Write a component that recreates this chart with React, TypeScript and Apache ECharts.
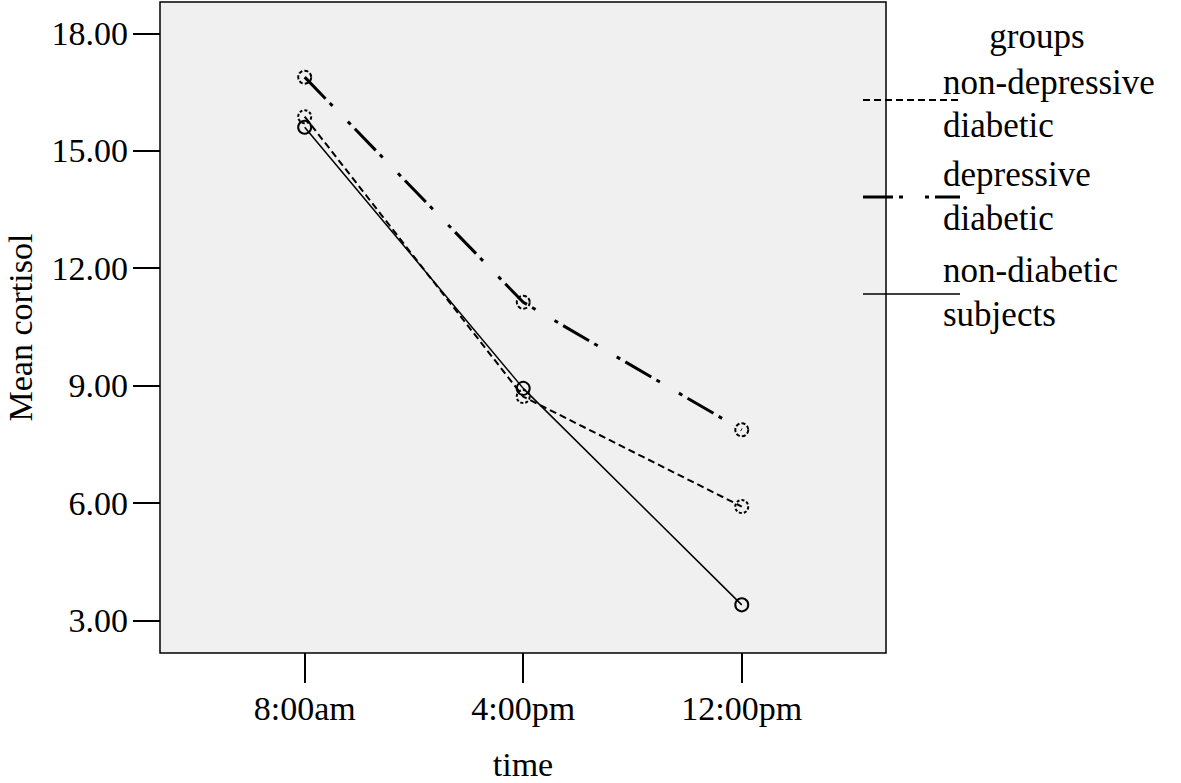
import React, { useEffect, useRef } from "react";
import * as echarts from "echarts";

const categories = ["8:00am", "4:00pm", "12:00pm"];
const yTicks = [3, 6, 9, 12, 15, 18];
const seriesNames = ["non-depressive diabetic", "depressive diabetic", "non-diabetic subjects"];
const nonDepressiveDiabetic = [15.87, 8.72, 5.91];
const depressiveDiabetic = [16.88, 11.13, 7.87];
const nonDiabeticSubjects = [15.6, 8.93, 3.4];

const FONT = "'Liberation Serif', 'Times New Roman', serif";

export default function App() {
  const ref = useRef<HTMLDivElement>(null);
  useEffect(() => {
    if (!ref.current) return;
    const chart = echarts.init(ref.current, null, { renderer: "svg" });
    const toData = (vals: number[]) => vals.map((v, i) => [i + 1, v]);
    const lineTypes: any[] = [[7, 4], [30, 6, 4, 22, 4, 6], "solid"];
    const lineWidths = [2, 3, 1.5];
    const borderTypes: any[] = [[3, 2], [4, 2], "solid"];
    const allData = [nonDepressiveDiabetic, depressiveDiabetic, nonDiabeticSubjects];
    const textStyle = { fontFamily: FONT, fontSize: 35, fill: "#000" };
    chart.setOption({
      animation: false,
      backgroundColor: "#fff",
      grid: {
        left: 160,
        top: 2,
        right: 295,
        bottom: 130,
        containLabel: false,
        outerBoundsMode: "none",
        show: true,
        backgroundColor: "#f0f0f0",
        borderColor: "#000",
        borderWidth: 1.5,
      },
      xAxis: {
        type: "value",
        min: 0.338,
        max: 3.66,
        name: "time",
        nameLocation: "middle",
        nameGap: 94,
        nameMoveOverlap: false,
        nameTextStyle: { fontFamily: FONT, fontSize: 34, color: "#000" },
        axisLine: { show: false },
        splitLine: { show: false },
        axisTick: { show: true, length: 30, customValues: [1, 2, 3], lineStyle: { color: "#000", width: 2 } },
        axisLabel: {
          customValues: [1, 2, 3],
          formatter: (v: number) => categories[Math.round(v) - 1] ?? "",
          fontFamily: FONT,
          fontSize: 34,
          color: "#000",
          margin: 38,
        },
      },
      yAxis: {
        type: "value",
        min: 2.17,
        max: 18.8,
        name: "Mean cortisol",
        nameLocation: "middle",
        nameGap: 123,
        nameMoveOverlap: false,
        nameRotate: 90,
        nameTextStyle: { fontFamily: FONT, fontSize: 34, color: "#000" },
        axisLine: { show: false },
        splitLine: { show: false },
        axisTick: { show: true, length: 27, customValues: yTicks, lineStyle: { color: "#000", width: 2 } },
        axisLabel: {
          customValues: yTicks,
          formatter: (v: number) => v.toFixed(2),
          fontFamily: FONT,
          fontSize: 34,
          color: "#000",
          margin: 32,
        },
      },
      series: seriesNames.map((name, i) => ({
        name,
        type: "line",
        data: toData(allData[i]),
        symbol: "circle",
        symbolSize: 13,
        itemStyle: { color: "transparent", borderColor: "#000", borderWidth: 2, borderType: borderTypes[i] },
        lineStyle: { color: "#000", width: lineWidths[i], type: lineTypes[i] },
        z: 3 - i,
      })),
      graphic: [
        { type: "text", x: 1037, y: 36, style: { ...textStyle, text: "groups", align: "center", verticalAlign: "middle" } },
        { type: "text", x: 943, y: 82, style: { ...textStyle, text: "non-depressive", verticalAlign: "middle" } },
        { type: "text", x: 943, y: 125, style: { ...textStyle, text: "diabetic", verticalAlign: "middle" } },
        { type: "text", x: 943, y: 174, style: { ...textStyle, text: "depressive", verticalAlign: "middle" } },
        { type: "text", x: 943, y: 218, style: { ...textStyle, text: "diabetic", verticalAlign: "middle" } },
        { type: "text", x: 943, y: 270, style: { ...textStyle, text: "non-diabetic", verticalAlign: "middle" } },
        { type: "text", x: 943, y: 314, style: { ...textStyle, text: "subjects", verticalAlign: "middle" } },
        {
          type: "line",
          shape: { x1: 863, y1: 100, x2: 960, y2: 100 },
          style: { stroke: "#000", lineWidth: lineWidths[0], lineDash: lineTypes[0] },
        },
        {
          type: "line",
          shape: { x1: 863, y1: 197, x2: 960, y2: 197 },
          style: { stroke: "#000", lineWidth: lineWidths[1], lineDash: lineTypes[1] },
        },
        {
          type: "line",
          shape: { x1: 863, y1: 294, x2: 960, y2: 294 },
          style: { stroke: "#000", lineWidth: lineWidths[2] },
        },
      ],
    });
    return () => chart.dispose();
  }, []);
  return (
    <div
      ref={ref}
      style={{ position: "fixed", left: 0, top: 0, width: 1181, height: 783, background: "#fff" }}
    />
  );
}
